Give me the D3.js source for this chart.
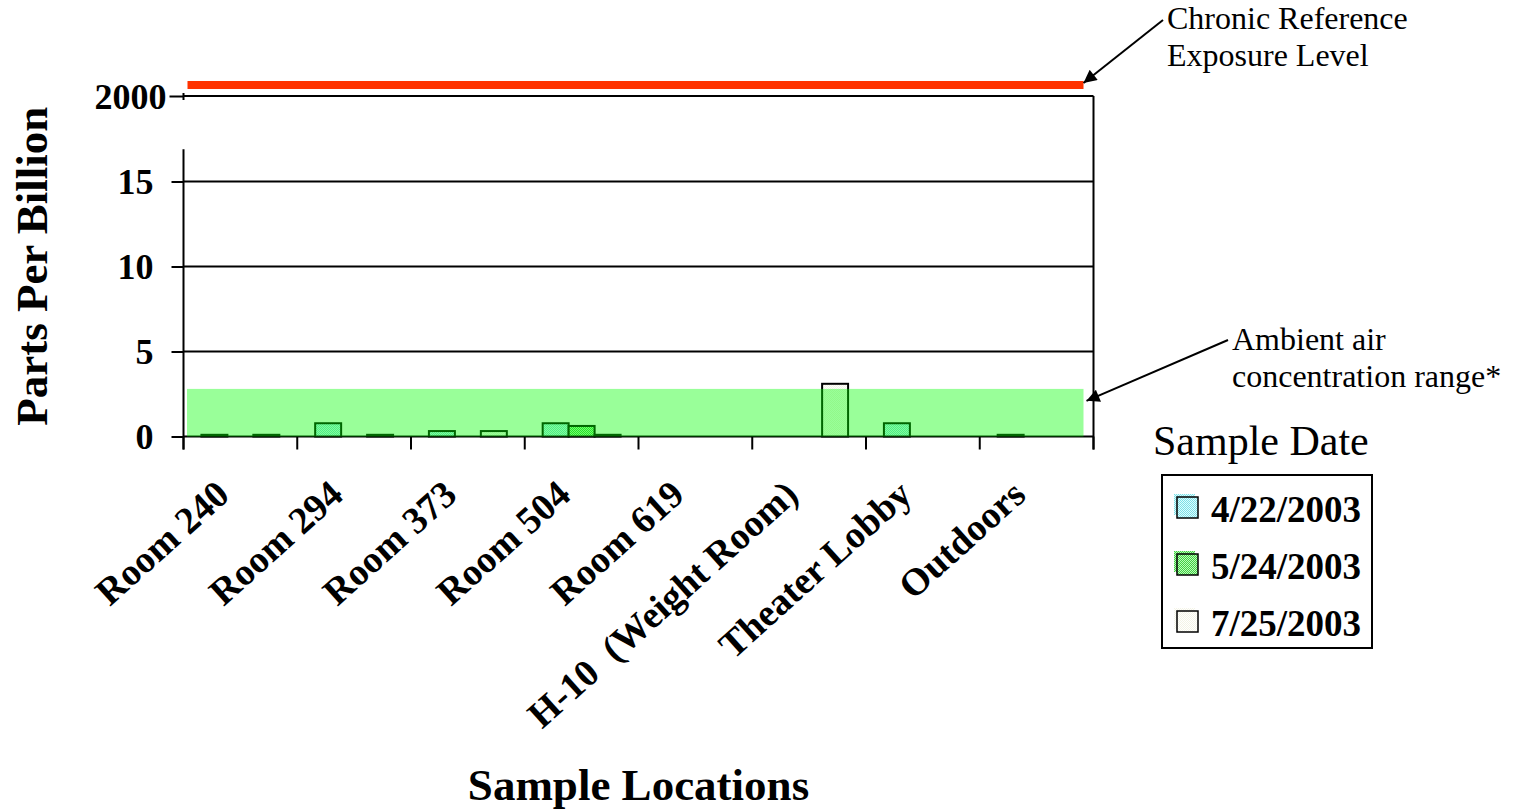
<!DOCTYPE html>
<html>
<head>
<meta charset="utf-8">
<script src="https://cdn.jsdelivr.net/npm/d3@7"></script>
<style>
  body { margin: 0; background: #fff; }
  text { font-family: "Liberation Serif", "Times New Roman", serif; fill: #000; }
</style>
</head>
<body>
<div id="chart"></div>
<script>
// chart data
const categories = ['Room 240', 'Room 294', 'Room 373', 'Room 504', 'Room 619', 'H-10  (Weight Room)', 'Theater Lobby', 'Outdoors'];
const seriesNames = ['4/22/2003', '5/24/2003', '7/25/2003'];
const values0422 = [0.1, 0.78, 0.32, 0.78, null, null, 0.78, 0.1];
const values0524 = [null, null, null, 0.62, null, null, null, null];
const values0725 = [0.1, 0.1, 0.32, 0.1, null, 3.1, null, null];
const seriesValues = [values0422, values0524, values0725];
const yTicks = [0, 5, 10, 15];
const yBreakTicks = [2000];
const axisBreak = 16.9;          // lower axis segment stops here
const relValue = 2000;           // chronic reference exposure level
const ambientRange = [0, 2.8];   // ambient air concentration range

const width = 1518, height = 811;

const svg = d3.select('#chart').append('svg')
    .attr('width', width)
    .attr('height', height);

const defs = svg.append('defs');

// dithered fills like the original
function addPattern(id, light, dark) {
    const p = defs.append('pattern')
        .attr('id', id)
        .attr('patternUnits', 'userSpaceOnUse')
        .attr('width', 2).attr('height', 2);
    p.append('rect').attr('width', 2).attr('height', 2).attr('fill', light);
    p.append('rect').attr('width', 1).attr('height', 1).attr('fill', dark);
    p.append('rect').attr('x', 1).attr('y', 1).attr('width', 1).attr('height', 1).attr('fill', dark);
}
addPattern('fill0', '#dcffff', '#7fdde6');
addPattern('fill1', '#b8ffb8', '#44cc44');
addPattern('fill2', '#ffffff', '#f4f4e6');
const seriesFill = ['url(#fill0)', 'url(#fill1)', 'url(#fill2)'];

defs.append('marker')
    .attr('id', 'arrow')
    .attr('viewBox', '0 0 10 10')
    .attr('refX', 10).attr('refY', 5)
    .attr('markerUnits', 'userSpaceOnUse')
    .attr('markerWidth', 16).attr('markerHeight', 13)
    .attr('orient', 'auto')
    .append('path')
    .attr('d', 'M0,0 L10,5 L0,10 z')
    .attr('fill', '#000');

// scales
const x0 = d3.scaleBand().domain(categories).range([183.5, 1093.5]).padding(0);
const x1 = d3.scaleBand().domain(seriesNames).range([0, x0.bandwidth()]).paddingInner(0).paddingOuter(0.69);
const y = d3.scaleLinear().domain([0, 15, axisBreak, 2000]).range([436.5, 181.5, 149.2, 96]);

const left = x0.range()[0], right = x0.range()[1];

// gridlines
svg.append('g').selectAll('line')
    .data(yTicks.filter(d => d > 0))
    .join('line')
    .attr('x1', left).attr('x2', right)
    .attr('y1', d => y(d)).attr('y2', d => y(d))
    .attr('stroke', '#000').attr('stroke-width', 2);

// frame: top line at the break value and right side
svg.append('line')
    .attr('x1', left).attr('x2', right)
    .attr('y1', y(2000)).attr('y2', y(2000))
    .attr('stroke', '#000').attr('stroke-width', 2);
svg.append('line')
    .attr('x1', right).attr('x2', right)
    .attr('y1', y(2000)).attr('y2', y(0) + 13)
    .attr('stroke', '#000').attr('stroke-width', 2);

// x axis baseline and ticks at category boundaries
svg.append('line')
    .attr('x1', left).attr('x2', right)
    .attr('y1', y(0)).attr('y2', y(0))
    .attr('stroke', '#000').attr('stroke-width', 2);
svg.append('g').selectAll('line')
    .data(categories.map(c => x0(c)).concat([right]))
    .join('line')
    .attr('x1', d => d).attr('x2', d => d)
    .attr('y1', y(0)).attr('y2', y(0) + 13)
    .attr('stroke', '#000').attr('stroke-width', 2);

// bars
const rows = [];
seriesNames.forEach(function(s, j) {
    categories.forEach(function(c, i) {
        const v = seriesValues[j][i];
        if (v !== null) rows.push({ cat: c, series: s, idx: j, value: v });
    });
});

svg.append('g').selectAll('rect')
    .data(rows)
    .join('rect')
    .attr('x', d => x0(d.cat) + x1(d.series))
    .attr('y', d => y(d.value))
    .attr('width', x1.bandwidth())
    .attr('height', d => y(0) - y(d.value))
    .attr('fill', d => seriesFill[d.idx])
    .attr('stroke', '#000')
    .attr('stroke-width', 2);

// ambient range band (translucent, sits over the bars)
svg.append('rect')
    .attr('x', left + 3.5)
    .attr('y', y(ambientRange[1]))
    .attr('width', (right - 10) - (left + 3.5))
    .attr('height', y(ambientRange[0]) - y(ambientRange[1]))
    .attr('fill', 'rgb(0,255,0)')
    .attr('fill-opacity', 0.4);

// chronic REL line, drawn just above the frame
const relLift = 11;
svg.append('line')
    .attr('x1', left + 4).attr('x2', right - 10)
    .attr('y1', y(relValue) - relLift).attr('y2', y(relValue) - relLift)
    .attr('stroke', '#ff3300').attr('stroke-width', 8);

// y axis, lower segment
const yAxis = d3.axisLeft(y).tickValues(yTicks).tickSize(12).tickPadding(18).tickFormat(d3.format('d'));
const gy = svg.append('g').attr('transform', `translate(${left},0)`).call(yAxis);
gy.select('.domain').remove();
gy.selectAll('.tick line').attr('stroke-width', 2);
gy.selectAll('.tick text')
    .style('font-family', '"Liberation Serif", "Times New Roman", serif')
    .style('font-size', '36px').style('font-weight', 'bold')
    .attr('dy', '0.34em');
svg.append('line')
    .attr('x1', left).attr('x2', left)
    .attr('y1', y(axisBreak)).attr('y2', y(0) + 13)
    .attr('stroke', '#000').attr('stroke-width', 2);

// y axis, top of the break
const yAxisTop = d3.axisLeft(y).tickValues(yBreakTicks).tickSize(14).tickPadding(3).tickFormat(d3.format('d'));
const gyt = svg.append('g').attr('transform', `translate(${left},0)`).call(yAxisTop);
gyt.select('.domain').remove();
gyt.selectAll('.tick line').attr('stroke-width', 2);
gyt.selectAll('.tick text')
    .style('font-family', '"Liberation Serif", "Times New Roman", serif')
    .style('font-size', '36px').style('font-weight', 'bold')
    .attr('dy', '0.34em');
svg.append('line')
    .attr('x1', left).attr('x2', left)
    .attr('y1', y(2000) - 3).attr('y2', y(2000) + 4)
    .attr('stroke', '#000').attr('stroke-width', 2);

// category labels
svg.append('g').selectAll('text')
    .data(categories)
    .join('text')
    .attr('transform', d => `translate(${x0(d) + x0.bandwidth() / 2 - 9},${y(0) + 61}) rotate(-42)`)
    .attr('text-anchor', 'end')
    .style('font-size', '38px')
    .style('font-weight', 'bold')
    .style('white-space', 'pre')
    .text(d => d);

// axis titles
svg.append('text')
    .attr('transform', `translate(47,${(y(2000) + y(0)) / 2}) rotate(-90)`)
    .attr('text-anchor', 'middle')
    .style('font-size', '45px').style('font-weight', 'bold')
    .text('Parts Per Billion');

svg.append('text')
    .attr('x', (left + right) / 2).attr('y', 800)
    .attr('text-anchor', 'middle')
    .style('font-size', '45px').style('font-weight', 'bold')
    .text('Sample Locations');

// annotations
svg.append('line')
    .attr('x1', 1163).attr('y1', 20)
    .attr('x2', right - 10).attr('y2', y(relValue) - relLift - 2)
    .attr('stroke', '#000').attr('stroke-width', 2)
    .attr('marker-end', 'url(#arrow)');
svg.append('text').attr('x', 1167).attr('y', 29).style('font-size', '32px').text('Chronic Reference');
svg.append('text').attr('x', 1167).attr('y', 66).style('font-size', '32px').text('Exposure Level');

svg.append('line')
    .attr('x1', 1228).attr('y1', 340)
    .attr('x2', right - 7).attr('y2', y(2.1))
    .attr('stroke', '#000').attr('stroke-width', 2)
    .attr('marker-end', 'url(#arrow)');
svg.append('text').attr('x', 1232).attr('y', 350).style('font-size', '32px').text('Ambient air');
svg.append('text').attr('x', 1232).attr('y', 387).style('font-size', '32px').text('concentration range*');

// legend
svg.append('text').attr('x', 1153).attr('y', 455).style('font-size', '42px').text('Sample Date');
const legend = svg.append('g');
legend.append('rect')
    .attr('x', 1162).attr('y', 475).attr('width', 210).attr('height', 173)
    .attr('fill', '#fff').attr('stroke', '#000').attr('stroke-width', 2);
const items = legend.selectAll('g.item')
    .data(seriesNames)
    .join('g')
    .attr('class', 'item')
    .attr('transform', (d, i) => `translate(1177,${497 + i * 57})`);
items.append('rect')
    .attr('x', -3).attr('y', -3).attr('width', 21).attr('height', 21)
    .attr('fill', (d, i) => seriesFill[i]);
items.append('rect')
    .attr('width', 21).attr('height', 21)
    .attr('fill', (d, i) => seriesFill[i])
    .attr('stroke', '#000').attr('stroke-width', 1.5);
items.append('text')
    .attr('x', 34).attr('y', 25)
    .style('font-size', '37px').style('font-weight', 'bold')
    .text(d => d);
</script>
</body>
</html>
